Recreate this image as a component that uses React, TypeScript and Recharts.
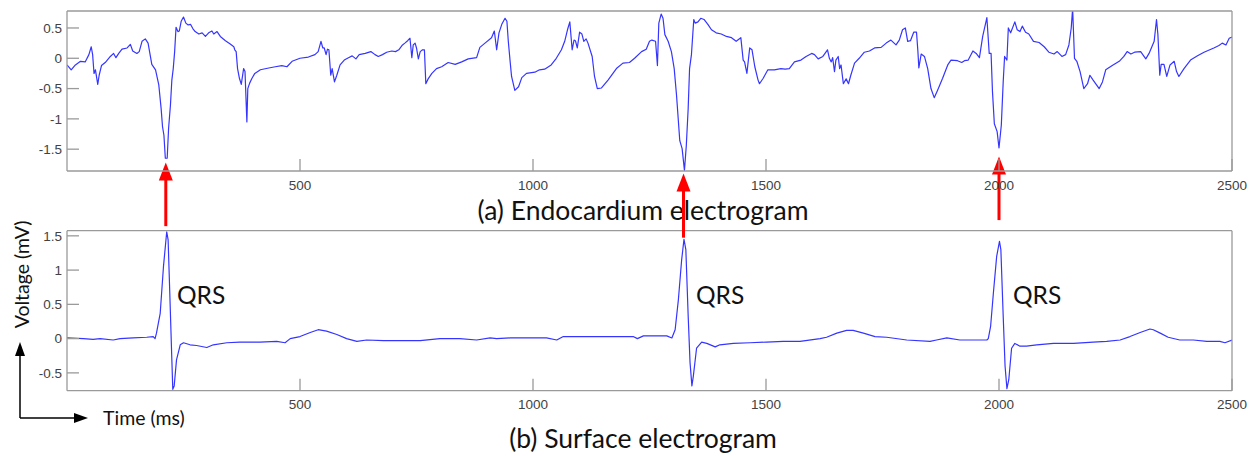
import { LineChart, Line, XAxis, YAxis, ReferenceLine } from "recharts";

// [time ms, mV] samples, endocardium electrogram
const endoPart1: [number, number][] = [
  [0, -0.11], [9, -0.19], [18, -0.11], [29, -0.05], [39, -0.06], [47, 0.06], [52, 0.19], [55, 0.06],
  [58, -0.25], [61, -0.19], [66, -0.43], [69, -0.28], [74, -0.12], [82, -0.07], [93, 0.03], [100, 0.08],
  [105, 0.01], [111, 0.08], [118, 0.15], [129, 0.17], [136, 0.23], [141, 0.12], [150, 0.08], [155, 0.11],
  [161, 0.28], [168, 0.32], [174, 0.25], [182, -0.1], [190, -0.19], [197, -0.44], [202, -0.83], [205, -1.13],
  [208, -1.27], [211, -1.65], [215, -1.65], [218, -1.16], [222, -0.77], [225, -0.36], [228, -0.17], [231, 0.11],
  [234, 0.51], [238, 0.44], [241, 0.45], [245, 0.61], [250, 0.68], [255, 0.58], [260, 0.55], [265, 0.56],
  [270, 0.49], [275, 0.44], [283, 0.4], [290, 0.42], [297, 0.36], [304, 0.42], [311, 0.45], [315, 0.4],
  [322, 0.44], [329, 0.36], [340, 0.29], [351, 0.23], [358, 0.19], [360, 0.14], [363, 0.11], [366, -0.17],
  [370, -0.33], [374, -0.43], [379, -0.17], [382, -0.22], [386, -1.05], [388, -0.5], [392, -0.41], [397, -0.33],
  [403, -0.25], [415, -0.19], [433, -0.16], [447, -0.14], [461, -0.12], [472, -0.14], [483, -0.05], [500, 0.0],
  [518, 0.02], [532, 0.06], [539, 0.11], [545, 0.28], [549, 0.17], [552, 0.17], [556, 0.06], [559, 0.15],
  [562, 0.14], [566, -0.28], [569, -0.17], [574, -0.39], [579, -0.28], [586, -0.11], [595, -0.03], [604, 0.01],
  [612, 0.04], [620, -0.01], [627, 0.06], [640, 0.08], [652, 0.11], [661, 0.06], [668, 0.03], [677, 0.06],
  [686, 0.1], [697, 0.12], [705, 0.11], [712, 0.14], [720, 0.22], [725, 0.25], [731, 0.29], [736, 0.33],
  [740, 0.01], [743, 0.22], [747, 0.25], [750, 0.17], [754, -0.01], [758, 0.11], [763, 0.14], [767, 0.14],
  [770, -0.42], [775, -0.34], [783, -0.25], [793, -0.17], [804, -0.14], [818, -0.07], [833, -0.1], [847, -0.06],
];

const endoPart2: [number, number][] = [
  [861, -0.01], [879, 0.01], [886, 0.18], [897, 0.25], [911, 0.34], [917, 0.45], [922, 0.14], [927, 0.42],
  [933, 0.56], [940, 0.66], [944, 0.61], [947, 0.28], [951, -0.06], [954, -0.3], [961, -0.53], [969, -0.47],
  [976, -0.32], [986, -0.25], [1004, -0.23], [1014, -0.19], [1025, -0.18], [1039, -0.11], [1050, 0.0], [1061, 0.14],
  [1068, 0.28], [1074, 0.47], [1079, 0.6], [1084, 0.14], [1088, 0.3], [1091, 0.29], [1095, 0.17], [1100, 0.43],
  [1105, 0.4], [1109, 0.28], [1114, 0.32], [1118, 0.25], [1127, 0.03], [1132, -0.3], [1138, -0.5], [1147, -0.49],
  [1161, -0.36], [1179, -0.17], [1193, -0.08], [1207, -0.07], [1218, 0.0], [1233, 0.11], [1243, 0.15], [1250, 0.28],
  [1255, 0.3], [1263, 0.28], [1267, -0.12], [1270, 0.58], [1275, 0.73], [1279, 0.66], [1283, 0.39], [1290, 0.28],
  [1297, 0.11], [1303, -0.17], [1308, -0.61], [1315, -1.36], [1320, -1.49], [1325, -1.85], [1329, -1.44], [1333, -0.83],
  [1336, -0.17], [1340, 0.06], [1345, 0.64], [1348, 0.58], [1354, 0.6], [1360, 0.66], [1367, 0.64], [1376, 0.55],
  [1383, 0.47], [1393, 0.42], [1404, 0.4], [1415, 0.36], [1426, 0.34], [1436, 0.28], [1446, 0.34], [1451, -0.03],
  [1454, -0.06], [1459, -0.25], [1465, 0.17], [1470, 0.14], [1476, -0.14], [1483, -0.36], [1486, -0.42], [1494, -0.33],
  [1504, -0.19], [1518, -0.19], [1532, -0.17], [1541, -0.18], [1550, -0.17], [1561, -0.06], [1575, -0.03], [1586, 0.03],
  [1598, 0.08], [1604, 0.06], [1612, -0.01], [1622, 0.03], [1632, 0.14], [1636, 0.0], [1640, -0.06], [1643, 0.01],
  [1647, -0.22], [1650, -0.03], [1655, 0.03], [1658, -0.17], [1661, -0.11], [1666, -0.42], [1672, -0.34], [1677, -0.42],
  [1682, -0.28], [1690, -0.08], [1700, 0.0], [1711, 0.1], [1722, 0.12], [1733, 0.17], [1747, 0.18], [1758, 0.25],
];

const endoPart3: [number, number][] = [
  [1768, 0.3], [1779, 0.22], [1786, 0.3], [1793, 0.47], [1799, 0.5], [1804, 0.28], [1810, 0.29], [1817, 0.43],
  [1823, 0.43], [1826, 0.11], [1828, -0.16], [1833, 0.07], [1840, 0.03], [1847, -0.17], [1854, -0.5], [1861, -0.65],
  [1868, -0.53], [1879, -0.33], [1890, -0.11], [1897, -0.03], [1911, -0.04], [1920, -0.07], [1926, -0.04], [1934, -0.03],
  [1944, 0.12], [1951, 0.08], [1958, 0.01], [1965, 0.36], [1974, 0.67], [1979, 0.08], [1983, 0.08], [1986, -0.55],
  [1990, -1.08], [1996, -1.21], [2000, -1.48], [2005, -1.1], [2009, -0.39], [2012, 0.03], [2017, -0.03], [2020, 0.5],
  [2025, 0.42], [2029, 0.5], [2034, 0.6], [2039, 0.47], [2045, 0.44], [2050, 0.53], [2057, 0.43], [2064, 0.4],
  [2074, 0.28], [2086, 0.26], [2097, 0.19], [2107, 0.1], [2118, 0.07], [2125, 0.11], [2135, 0.03], [2143, 0.06],
  [2150, 0.22], [2155, 0.5], [2158, 0.82], [2162, 0.0], [2167, -0.05], [2174, -0.22], [2182, -0.5], [2190, -0.42],
  [2195, -0.28], [2202, -0.36], [2215, -0.5], [2222, -0.39], [2229, -0.19], [2243, -0.12], [2258, -0.05], [2268, 0.03],
  [2275, 0.11], [2283, 0.07], [2291, 0.1], [2304, 0.11], [2315, -0.01], [2322, 0.08], [2333, 0.28], [2338, 0.64],
  [2341, 0.39], [2345, -0.28], [2348, -0.1], [2354, -0.1], [2360, -0.3], [2367, -0.11], [2376, -0.05], [2381, -0.22],
  [2386, -0.3], [2397, -0.17], [2411, -0.03], [2426, 0.04], [2440, 0.1], [2461, 0.17], [2472, 0.21], [2479, 0.25],
  [2487, 0.22], [2494, 0.33], [2500, 0.35],
];

// [time ms, mV] samples, surface electrogram
const surfPart1: [number, number][] = [
  [0, 0.01], [35, 0.0], [56, -0.01], [71, 0.0], [99, -0.02], [114, 0.0], [142, 0.01], [171, 0.02],
  [185, 0.03], [189, 0.0], [192, 0.08], [200, 0.37], [207, 1.05], [214, 1.56], [217, 1.44], [221, 0.57],
  [225, -0.31], [227, -0.74], [230, -0.69], [235, -0.31], [243, -0.09], [250, -0.06], [264, -0.09], [278, -0.1],
  [300, -0.13], [314, -0.09], [343, -0.06], [371, -0.05], [414, -0.05], [450, -0.04], [468, -0.06], [479, 0.0],
  [500, 0.03], [522, 0.09], [539, 0.13], [557, 0.11], [579, 0.06], [600, 0.0], [622, -0.04], [643, -0.02],
  [679, -0.03], [715, -0.03], [758, -0.03], [800, 0.0], [843, 0.0], [879, -0.02], [908, 0.01], [922, 0.0],
];

const surfPart2: [number, number][] = [
  [951, 0.01], [1001, 0.01], [1029, 0.01], [1051, -0.02], [1065, 0.03], [1115, 0.03], [1172, 0.03], [1215, 0.03],
  [1224, 0.0], [1237, 0.04], [1287, 0.04], [1298, 0.01], [1305, 0.13], [1312, 0.57], [1319, 1.15], [1324, 1.45],
  [1328, 1.3], [1333, 0.33], [1337, -0.35], [1341, -0.69], [1344, -0.55], [1351, -0.14], [1362, -0.05], [1373, -0.07],
  [1391, -0.12], [1401, -0.09], [1430, -0.07], [1466, -0.06], [1501, -0.05], [1537, -0.04], [1573, -0.04], [1616, 0.0],
  [1630, 0.02], [1652, 0.08], [1673, 0.12], [1687, 0.12], [1709, 0.08], [1734, 0.03], [1759, 0.02], [1802, -0.02],
];

const surfPart3: [number, number][] = [
  [1852, -0.04], [1866, -0.02], [1888, 0.01], [1916, -0.02], [1945, -0.02], [1974, -0.02], [1977, 0.0], [1982, 0.18],
  [1988, 0.67], [1995, 1.2], [2001, 1.42], [2004, 1.3], [2009, 0.33], [2013, -0.4], [2017, -0.73], [2021, -0.6],
  [2027, -0.14], [2034, -0.07], [2045, -0.11], [2059, -0.11], [2081, -0.09], [2117, -0.07], [2160, -0.07], [2202, -0.05],
  [2231, -0.04], [2260, -0.02], [2281, 0.03], [2303, 0.09], [2324, 0.14], [2331, 0.13], [2346, 0.08], [2363, 0.02],
  [2388, -0.02], [2417, -0.02], [2446, -0.04], [2474, -0.04], [2485, -0.06], [2500, -0.02],
];

const timeTicks = [500, 1000, 1500, 2000, 2500];
const endoTicks = [-1.5, -1, -0.5, 0, 0.5];
const surfTicks = [-0.5, 0, 0.5, 1, 1.5];

// activation markers: time, arrow tip and tail in endocardium mV units
const markerTimes = [212, 1323, 2000];
const markerTips = [-1.72, -1.9, -1.62];
const markerTails = [-2.77, -2.96, -2.67];

const qrsLabels = ["QRS", "QRS", "QRS"];
const qrsLeft = [177, 696, 1013];

const toRows = (parts: [number, number][][]) =>
  parts.flat().map(([t, v]) => ({ t, v }));

const endoData = toRows([endoPart1, endoPart2, endoPart3]);
const surfData = toRows([surfPart1, surfPart2, surfPart3]);

const W = 1257;
const PLOT_LEFT = 67;
const PLOT_RIGHT = 25;
const PLOT_H = 160;
const AXIS_GREY = "#9a9a9a";
const TRACE = "#3535ff";
const tickText = { fill: "#424242", fontSize: 13.5, fontFamily: "'Liberation Sans', Arial, sans-serif" };
const noteFont = "Lato, 'Open Sans', sans-serif";

const RedArrow = (p: any) => {
  const { x1, y1, x2, y2 } = p;
  const head = 18;
  const half = 7;
  return (
    <g>
      <line x1={x1} y1={y1} x2={x2} y2={y2 + head - 2} stroke="#ff0000" strokeWidth={3} />
      <polygon points={`${x2},${y2} ${x2 - half},${y2 + head} ${x2 + half},${y2 + head}`} fill="#ff0000" />
    </g>
  );
};

function Panel({
  data,
  yDomain,
  yTicks,
  height,
  marginTop,
  children,
}: {
  data: { t: number; v: number }[];
  yDomain: [number, number];
  yTicks: number[];
  height: number;
  marginTop: number;
  children?: React.ReactNode;
}) {
  // every axis takes 1px, so margins are trimmed by one to keep the plot box in place
  return (
    <LineChart
      width={W}
      height={height}
      data={data}
      margin={{
        top: marginTop - 1,
        right: PLOT_RIGHT - 1,
        bottom: height - marginTop - PLOT_H - 1,
        left: PLOT_LEFT - 1,
      }}
    >
      <XAxis
        type="number"
        dataKey="t"
        domain={[0, 2500]}
        ticks={timeTicks}
        height={1}
        stroke={AXIS_GREY}
        strokeWidth={1.3}
        tickSize={-12}
        tickMargin={21}
        tick={tickText}
        allowDataOverflow
      />
      <XAxis
        xAxisId="top"
        orientation="top"
        type="number"
        dataKey="t"
        domain={[0, 2500]}
        ticks={timeTicks}
        height={1}
        stroke={AXIS_GREY}
        strokeWidth={1.3}
        tickSize={-12}
        tick={false}
      />
      <YAxis
        type="number"
        domain={yDomain}
        ticks={yTicks}
        width={1}
        stroke={AXIS_GREY}
        strokeWidth={1.3}
        tickSize={-12}
        tickMargin={17}
        tick={tickText}
        allowDataOverflow
      />
      <YAxis
        yAxisId="right"
        orientation="right"
        type="number"
        domain={yDomain}
        ticks={yTicks}
        width={1}
        stroke={AXIS_GREY}
        strokeWidth={1.3}
        tickSize={-12}
        tick={false}
      />
      <Line
        type="linear"
        dataKey="v"
        stroke={TRACE}
        strokeWidth={1.2}
        strokeLinejoin="round"
        dot={false}
        activeDot={false}
        isAnimationActive={false}
      />
      {children}
    </LineChart>
  );
}

export default function App() {
  return (
    <div style={{ position: "absolute", left: 0, top: 0, width: W, height: 456, background: "#fff", overflow: "hidden" }}>
      <div style={{ position: "absolute", left: 0, top: 200, zIndex: 1 }}>
        <Panel data={surfData} yDomain={[-0.76, 1.575]} yTicks={surfTicks} height={256} marginTop={30.7} />
      </div>

      <svg width={W} height={456} style={{ position: "absolute", left: 0, top: 0, zIndex: 2 }}>
        <g fill="#111" fontFamily={noteFont}>
          <text x={643} y={220} fontSize={26.5} textAnchor="middle">(a) Endocardium electrogram</text>
          <text x={643} y={448} fontSize={26.5} textAnchor="middle">(b) Surface electrogram</text>
          {qrsLabels.map((q, i) => (
            <text key={i} x={qrsLeft[i]} y={304} fontSize={24.5}>{q}</text>
          ))}
          <text x={29} y={274.5} fontSize={19.5} textAnchor="middle" transform="rotate(-90 29 274.5)">
            Voltage (mV)
          </text>
          <text x={103} y={425} fontSize={19.5}>Time (ms)</text>
        </g>
        <g stroke="#000" strokeWidth={1.5} fill="none">
          <line x1={20} y1={418} x2={20} y2={352} />
          <line x1={20} y1={418} x2={78} y2={418} />
        </g>
        <polygon points="20,342 15,356 25,356" fill="#000" />
        <polygon points="88,418 74,413 74,423" fill="#000" />
      </svg>

      <div style={{ position: "absolute", left: 0, top: 0, zIndex: 3 }}>
        <Panel data={endoData} yDomain={[-1.86, 0.78]} yTicks={endoTicks} height={245} marginTop={11}>
          {markerTimes.map((t, i) => (
            <ReferenceLine
              key={t}
              segment={[
                { x: t, y: markerTails[i] },
                { x: t, y: markerTips[i] },
              ]}
              ifOverflow="visible"
              shape={RedArrow}
            />
          ))}
        </Panel>
      </div>
    </div>
  );
}
